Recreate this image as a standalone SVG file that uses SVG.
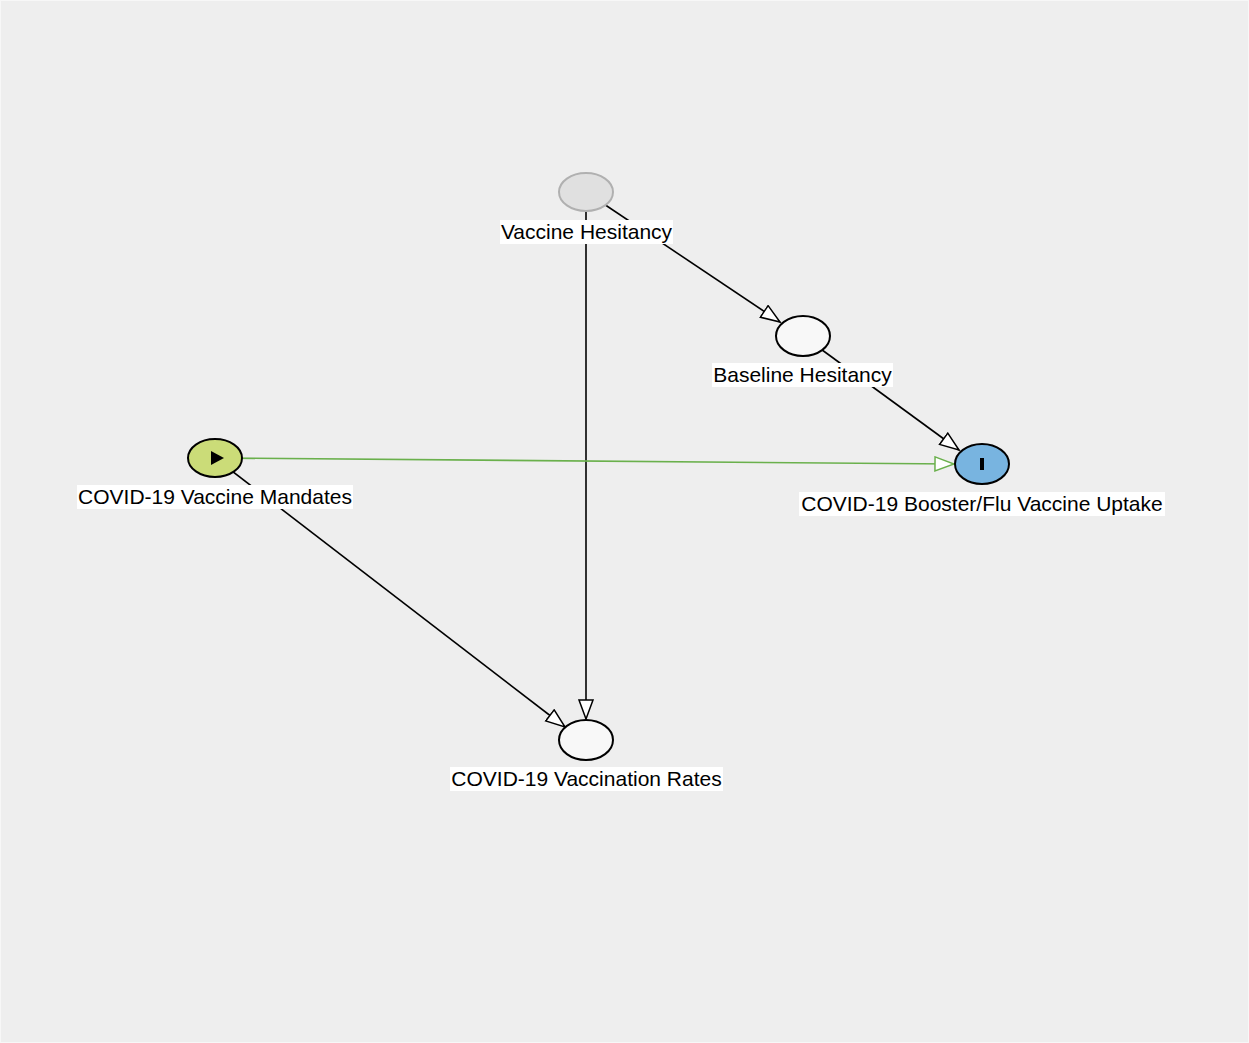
<svg xmlns="http://www.w3.org/2000/svg" width="1249" height="1043" viewBox="0 0 1249 1043">
  <defs>
    <style>
      .edge { fill: none; stroke: #000; stroke-width: 1.6; }
      .edge-green { fill: none; stroke: #6ab04c; stroke-width: 1.6; }
      .node { stroke: #000; stroke-width: 2; }
      .lbg { fill: #fff; }
      .lbl { font-family: "Liberation Sans", Arial, sans-serif; font-size: 21px; fill: #000; text-anchor: middle; }
    </style>
    <marker id="arr" markerUnits="userSpaceOnUse" markerWidth="22" markerHeight="18" refX="20" refY="8" orient="auto">
      <path d="M1,1 L20,8 L1,15 z" fill="#fff" stroke="#000" stroke-width="1.5"/>
    </marker>
    <marker id="arrg" markerUnits="userSpaceOnUse" markerWidth="22" markerHeight="18" refX="20" refY="8" orient="auto">
      <path d="M1,1 L20,8 L1,15 z" fill="#fff" stroke="#6ab04c" stroke-width="1.5"/>
    </marker>
  </defs>
  <rect x="0.5" y="0.5" width="1248" height="1042" fill="#eeeeee" stroke="#f7f7f7" stroke-width="1"/>

  <g id="connectors">
    <line class="edge" x1="586" y1="192" x2="780" y2="322" marker-end="url(#arr)"/>
    <line class="edge" x1="586" y1="192" x2="586" y2="719" marker-end="url(#arr)"/>
    <line class="edge" x1="803" y1="336" x2="959" y2="450" marker-end="url(#arr)"/>
    <line class="edge" x1="215" y1="458" x2="565" y2="727" marker-end="url(#arr)"/>
    <line class="edge-green" x1="215" y1="458" x2="954" y2="464" marker-end="url(#arrg)"/>
  </g>

  <g id="node-vaccine-hesitancy">
    <ellipse cx="586" cy="192" rx="27" ry="19" fill="#e0e0e0" stroke="#b0b0b0" stroke-width="2"/>
    <rect class="lbg" x="500" y="220" width="173" height="24"/>
    <text class="lbl" x="586.5" y="239">Vaccine Hesitancy</text>
  </g>

  <g id="node-baseline-hesitancy">
    <ellipse class="node" cx="803" cy="336" rx="27" ry="20" fill="#f8f8f8"/>
    <rect class="lbg" x="712" y="363" width="181" height="24"/>
    <text class="lbl" x="802.5" y="382">Baseline Hesitancy</text>
  </g>

  <g id="node-mandates">
    <ellipse class="node" cx="215" cy="458" rx="27" ry="19" fill="#cbdc78"/>
    <polygon points="211,451 224,458 211,465" fill="#000"/>
    <rect class="lbg" x="77" y="485" width="276" height="24"/>
    <text class="lbl" x="215" y="504">COVID-19 Vaccine Mandates</text>
  </g>

  <g id="node-booster">
    <ellipse class="node" cx="982" cy="464" rx="27" ry="20" fill="#78b4e0"/>
    <rect x="980" y="458" width="4" height="12" fill="#000"/>
    <rect class="lbg" x="799" y="492" width="366" height="24"/>
    <text class="lbl" x="982" y="511">COVID-19 Booster/Flu Vaccine Uptake</text>
  </g>

  <g id="node-vaccination-rates">
    <ellipse class="node" cx="586" cy="740" rx="27" ry="20" fill="#f8f8f8"/>
    <rect class="lbg" x="450" y="767" width="273" height="24"/>
    <text class="lbl" x="586.5" y="786">COVID-19 Vaccination Rates</text>
  </g>
</svg>
